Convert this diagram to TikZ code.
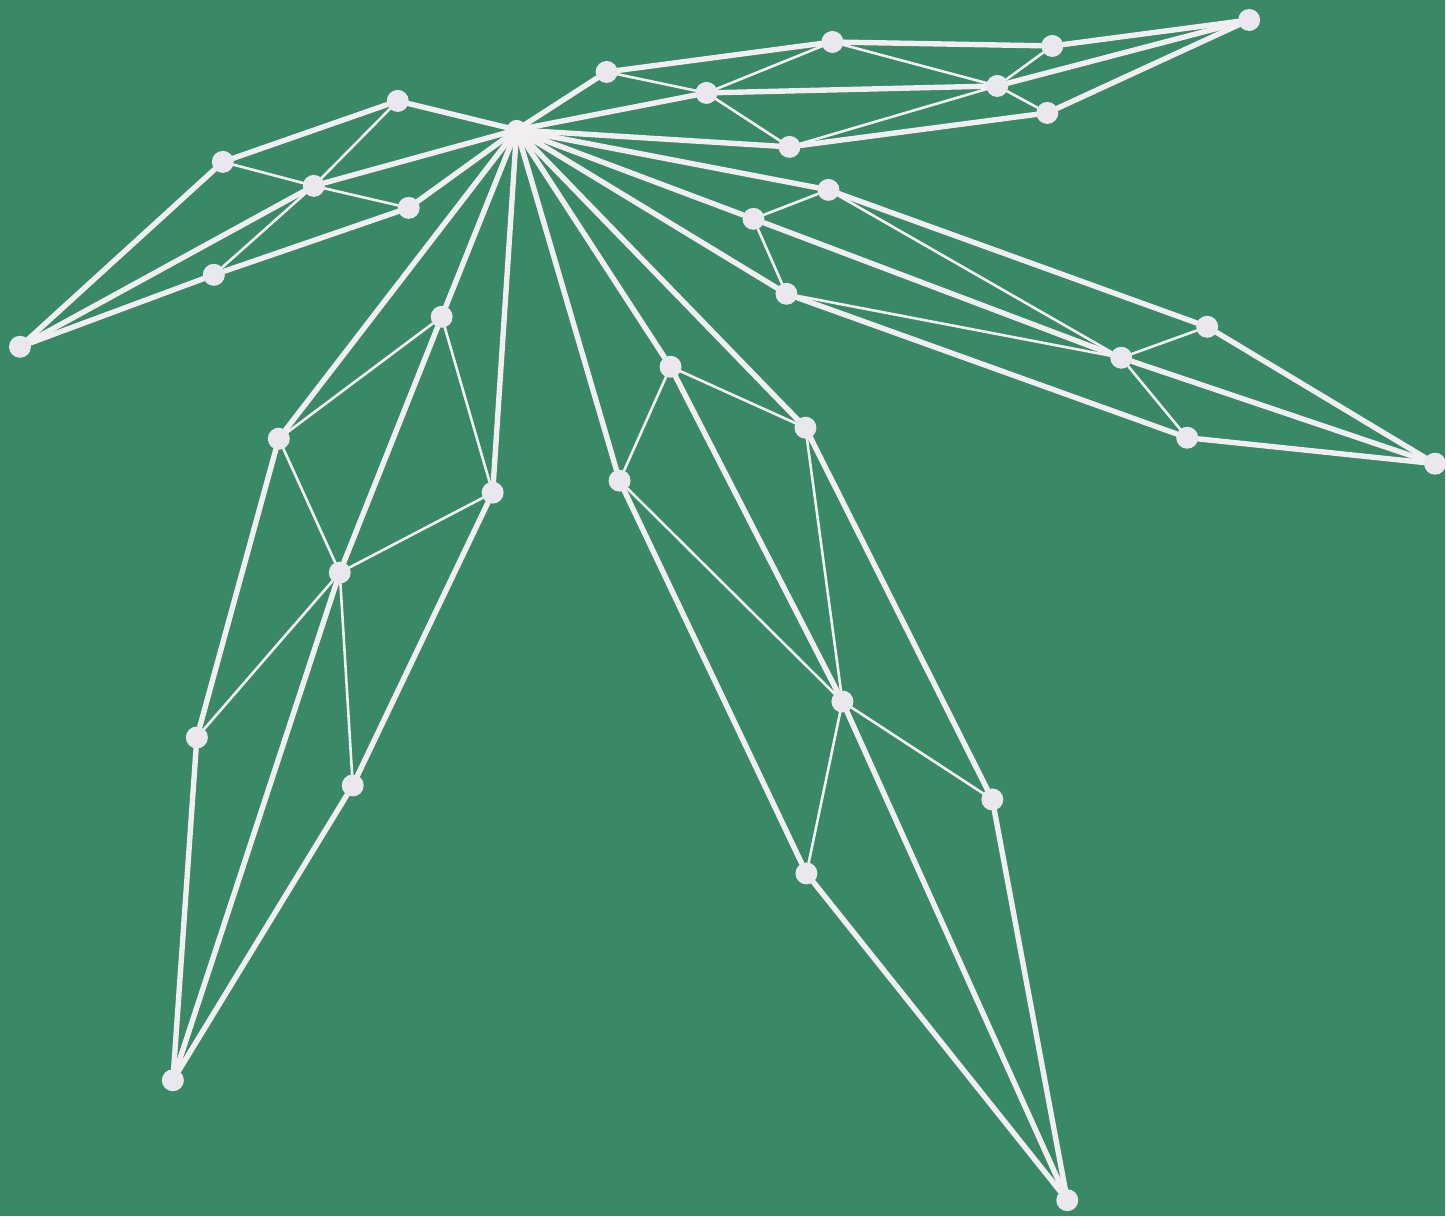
\documentclass[tikz,border=0pt]{standalone}
\usetikzlibrary{backgrounds}
\definecolor{bg}{RGB}{57,136,102}
\definecolor{ln}{RGB}{240,238,240}
\definecolor{nd}{RGB}{234,231,238}
\begin{document}
\begin{tikzpicture}[x=1pt,y=-1pt,
  dot/.style={circle,fill=nd,minimum size=22pt,inner sep=0pt},
  hubdot/.style={circle,fill=ln,minimum size=20pt,inner sep=0pt},
  heavyline/.style={draw=ln,line width=5.4pt,line cap=round},
  lightline/.style={draw=ln,line width=2.6pt,line cap=round}]
% nodes
\node[hubdot] (H) at (517,130) {};
% top-left
\node[dot] (A1) at (398,101) {};
\node[dot] (A2) at (223,162) {};
\node[dot] (A3) at (314,186) {};
\node[dot] (A4) at (409,208) {};
\node[dot] (A5) at (214,275) {};
\node[dot] (A6) at (20,347) {};
% top-right
\node[dot] (B1) at (607,72) {};
\node[dot] (B2) at (707,93) {};
\node[dot] (B3) at (833,42) {};
\node[dot] (B4) at (1053,46) {};
\node[dot] (B5) at (998,86) {};
\node[dot] (B6) at (1048,113) {};
\node[dot] (B7) at (790,147) {};
\node[dot] (B8) at (1250,20) {};
% right
\node[dot] (C1) at (829,190) {};
\node[dot] (C2) at (754,219) {};
\node[dot] (C3) at (787,294) {};
\node[dot] (C4) at (1208,327) {};
\node[dot] (C5) at (1122,358) {};
\node[dot] (C6) at (1188,438) {};
\node[dot] (C7) at (1436,464) {};
% lower-left
\node[dot] (D1) at (442,317) {};
\node[dot] (D2) at (279,439) {};
\node[dot] (D3) at (493,493) {};
\node[dot] (D4) at (340,573) {};
\node[dot] (D5) at (197,738) {};
\node[dot] (D6) at (353,786) {};
\node[dot] (D7) at (173,1081) {};
% lower-right
\node[dot] (E1) at (671,367) {};
\node[dot] (E2) at (806,428) {};
\node[dot] (E3) at (620,481) {};
\node[dot] (E4) at (843,702) {};
\node[dot] (E5) at (993,800) {};
\node[dot] (E6) at (807,874) {};
\node[dot] (E7) at (1068,1201) {};
\begin{scope}[on background layer]
\fill[bg] (0,0) rectangle (1446,1217);
% spokes from the hub
\foreach \b in {A1,A3,A4,B1,B2,B7,C1,C2,C3,D1,D2,D3,E1,E2,E3}
  \path[heavyline] (H.center) -- (\b);
% top-left
\foreach \a/\b in {A1/A2,A2/A6,A3/A6,A4/A5,A5/A6}
  \path[heavyline] (\a) -- (\b);
\foreach \a/\b in {A1/A3,A2/A3,A3/A4,A3/A5}
  \path[lightline] (\a) -- (\b);
% top-right
\foreach \a/\b in {B1/B3,B3/B4,B4/B8,B2/B5,B5/B8,B7/B6,B6/B8}
  \path[heavyline] (\a) -- (\b);
\foreach \a/\b in {B1/B2,B2/B3,B2/B7,B3/B5,B4/B5,B5/B6,B5/B7}
  \path[lightline] (\a) -- (\b);
% right
\foreach \a/\b in {C1/C4,C4/C7,C2/C5,C5/C7,C3/C6,C6/C7}
  \path[heavyline] (\a) -- (\b);
\foreach \a/\b in {C1/C2,C2/C3,C1/C5,C3/C5,C4/C5,C5/C6}
  \path[lightline] (\a) -- (\b);
% lower-left
\foreach \a/\b in {D2/D5,D5/D7,D1/D4,D4/D7,D3/D6,D6/D7}
  \path[heavyline] (\a) -- (\b);
\foreach \a/\b in {D1/D2,D1/D3,D2/D4,D3/D4,D4/D5,D4/D6}
  \path[lightline] (\a) -- (\b);
% lower-right
\foreach \a/\b in {E3/E6,E6/E7,E1/E4,E4/E7,E2/E5,E5/E7}
  \path[heavyline] (\a) -- (\b);
\foreach \a/\b in {E1/E3,E1/E2,E3/E4,E2/E4,E4/E6,E4/E5}
  \path[lightline] (\a) -- (\b);
\end{scope}
\end{tikzpicture}
\end{document}
